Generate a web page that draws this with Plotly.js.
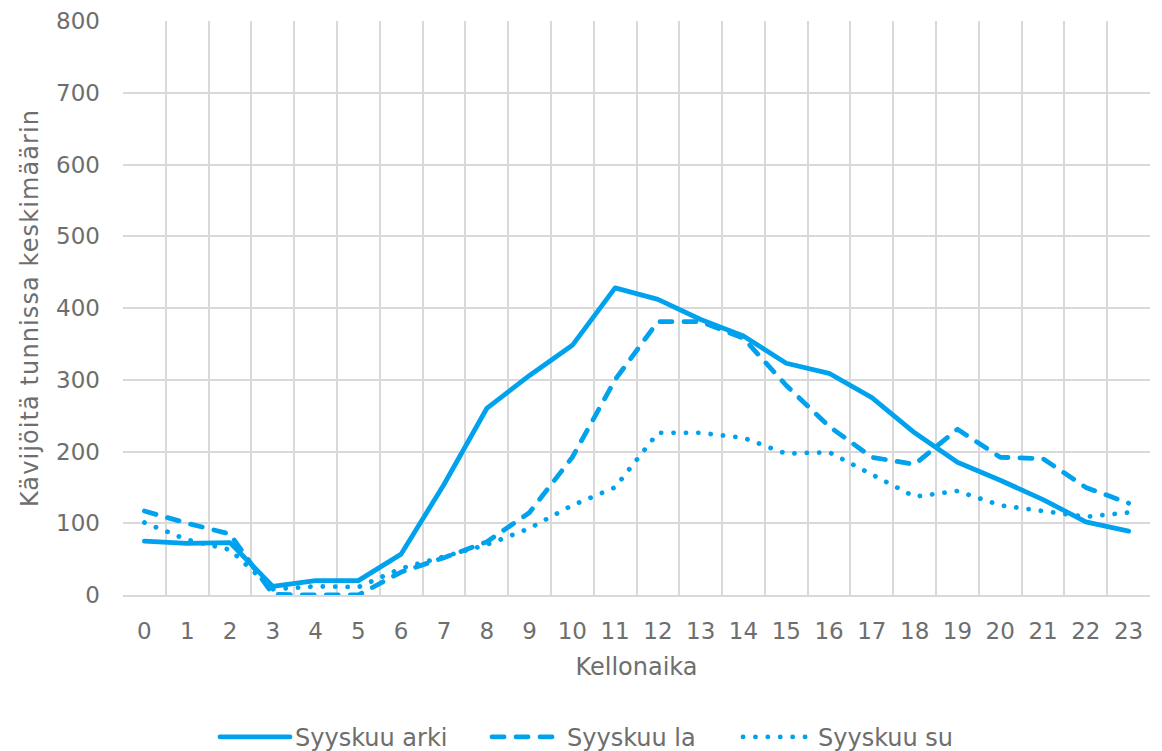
<!DOCTYPE html>
<html>
<head>
<meta charset="utf-8">
<script src="https://cdn.plot.ly/plotly-3.0.1.min.js"></script>
<style>
html,body{margin:0;padding:0;background:#fff;}
#chart{width:1162px;height:751px;}
#chart .ytitle{letter-spacing:1.1px;}
</style>
</head>
<body>
<div id="chart"></div>
<script>
const hours = ["0","1","2","3","4","5","6","7","8","9","10","11","12","13","14","15","16","17","18","19","20","21","22","23"];
const arki = [75, 72, 73, 12, 20, 20, 57, 154, 260, 306, 348, 428, 412, 384, 361, 323, 309, 275, 226, 185, 160, 133, 102, 89];
const la   = [117, 100, 85, 1, 0, 0, 32, 52, 74, 115, 192, 300, 381, 381, 358, 292, 235, 192, 182, 231, 192, 190, 150, 128];
const su   = [101, 77, 63, 8, 12, 11, 37, 54, 70, 93, 125, 150, 226, 226, 219, 197, 199, 168, 137, 145, 125, 117, 109, 115];
const seriesNames = ["Syyskuu arki", "Syyskuu la", "Syyskuu su"];
const yTicks = [0, 100, 200, 300, 400, 500, 600, 700, 800];

const blue = "#00A2EE";
const font = "Verdana, 'DejaVu Sans', sans-serif";
const grey = "#6e6e6e";

const traces = [
  {x: hours, y: arki, name: seriesNames[0], type: "scatter", mode: "lines", legend: "legend",
   line: {color: blue, width: 4.8}},
  {x: hours, y: la, name: seriesNames[1], type: "scatter", mode: "lines", legend: "legend2",
   line: {color: blue, width: 4.8, dash: "12px,12px"}},
  {x: hours, y: su, name: seriesNames[2], type: "scatter", mode: "lines", legend: "legend3",
   line: {color: blue, width: 4.8, dash: "0.1px,12.3px"}}
];

function leg(px) {
  return {orientation: "h", x: (px - 123) / 1027, xanchor: "left", y: -0.248, yanchor: "middle",
          font: {family: font, size: 24, color: grey}, itemwidth: 70, bgcolor: "rgba(0,0,0,0)"};
}

const layout = {
  width: 1162, height: 751,
  margin: {l: 123, r: 12, t: 21, b: 156, autoexpand: false},
  paper_bgcolor: "#fff", plot_bgcolor: "#fff",
  font: {family: font, size: 22, color: grey},
  showlegend: true,
  legend: leg(215),
  legend2: leg(487),
  legend3: leg(738),
  xaxis: {
    type: "category", tickson: "boundaries", showgrid: true, gridcolor: "#d9d9d9", gridwidth: 2,
    ticks: "", showline: true, linecolor: "#d9d9d9", linewidth: 2, mirror: false,
    tickfont: {family: font, size: 23, color: grey}, ticklabelstandoff: 14,
    title: {text: "Kellonaika", font: {family: font, size: 24, color: grey}, standoff: 16},
    range: [-0.5, 23.5], fixedrange: true
  },
  yaxis: {
    range: [0, 800], tickvals: yTicks, ticktext: yTicks.map(String),
    showgrid: true, gridcolor: "#d9d9d9", gridwidth: 2, zeroline: false,
    showline: false, ticks: "", ticklabelstandoff: 22,
    tickfont: {family: font, size: 23, color: grey},
    title: {text: "Kävijöitä tunnissa keskimäärin", font: {family: font, size: 24, color: grey}, standoff: 10},
    fixedrange: true
  }
};

Plotly.newPlot("chart", traces, layout, {displayModeBar: false, staticPlot: true}).then(function () {
  document.querySelectorAll("#chart path.js-line").forEach(function (p) {
    p.style.strokeLinecap = "round";
    p.style.strokeLinejoin = "round";
  });
  document.querySelectorAll("#chart .legendlines path").forEach(function (p) {
    p.style.strokeLinecap = "round";
  });
});
</script>
</body>
</html>
